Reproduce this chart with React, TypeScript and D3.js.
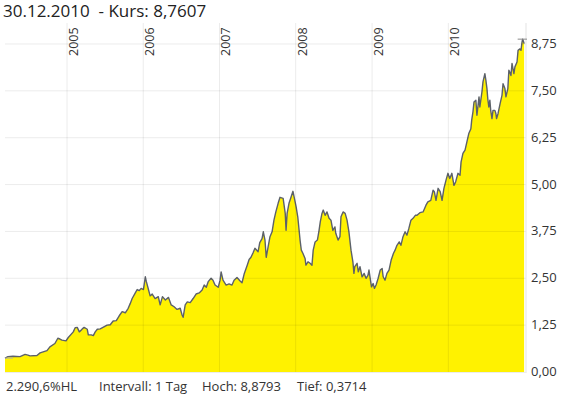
import React from 'react';
import * as d3 from 'd3';

// Kursverlauf (Datum, Kurs)
const kurs2004: [string, number][] = [
  ['2004-03-10', 0.3714], ['2004-03-24', 0.41], ['2004-04-17', 0.42], ['2004-05-21', 0.41],
  ['2004-06-14', 0.47], ['2004-06-28', 0.45], ['2004-07-08', 0.43], ['2004-08-10', 0.44],
  ['2004-08-25', 0.51], ['2004-09-27', 0.57], ['2004-10-11', 0.67], ['2004-11-04', 0.76],
  ['2004-11-18', 0.9], ['2004-11-28', 0.88], ['2004-12-08', 0.85], ['2004-12-27', 0.83],
];
const kurs2005: [string, number][] = [
  ['2005-01-07', 0.92], ['2005-01-31', 1.07], ['2005-02-09', 1.18], ['2005-02-19', 1.19],
  ['2005-03-01', 1.07], ['2005-03-15', 1.15], ['2005-03-24', 1.19], ['2005-04-08', 1.14],
  ['2005-04-13', 0.99], ['2005-04-27', 0.99], ['2005-05-07', 0.97], ['2005-05-16', 1.07],
  ['2005-05-26', 1.14], ['2005-06-09', 1.15], ['2005-07-12', 1.25], ['2005-07-27', 1.26],
  ['2005-08-10', 1.36], ['2005-08-25', 1.37], ['2005-09-08', 1.5], ['2005-09-22', 1.61],
  ['2005-10-07', 1.58], ['2005-10-21', 1.7], ['2005-10-31', 1.83], ['2005-11-09', 1.96],
  ['2005-11-24', 2.11], ['2005-12-03', 2.2], ['2005-12-13', 2.17], ['2005-12-22', 2.23],
];
const kurs2006: [string, number][] = [
  ['2006-01-02', 2.2], ['2006-01-11', 2.54], ['2006-01-16', 2.41], ['2006-01-25', 2.22],
  ['2006-02-03', 2.03], ['2006-02-13', 2.08], ['2006-02-27', 1.96], ['2006-03-14', 2.01],
  ['2006-03-23', 1.79], ['2006-04-03', 2.01], ['2006-04-17', 1.92], ['2006-05-02', 1.99],
  ['2006-05-15', 1.79], ['2006-05-29', 1.74], ['2006-06-12', 1.67], ['2006-06-27', 1.7],
  ['2006-07-06', 1.52], ['2006-07-11', 1.46], ['2006-07-21', 1.79], ['2006-07-31', 1.87],
  ['2006-08-14', 1.85], ['2006-08-28', 1.96], ['2006-09-11', 2.08], ['2006-09-26', 2.11],
  ['2006-10-10', 2.19], ['2006-10-20', 2.32], ['2006-10-30', 2.26], ['2006-11-08', 2.41],
  ['2006-11-22', 2.5], ['2006-12-01', 2.45], ['2006-12-11', 2.32], ['2006-12-26', 2.26],
];
const kurs2007: [string, number][] = [
  ['2007-01-04', 2.45], ['2007-01-09', 2.67], ['2007-01-18', 2.45], ['2007-02-02', 2.32],
  ['2007-02-16', 2.35], ['2007-03-02', 2.32], ['2007-03-12', 2.45], ['2007-03-26', 2.52],
  ['2007-04-10', 2.43], ['2007-04-19', 2.38], ['2007-04-30', 2.63], ['2007-05-14', 2.85],
  ['2007-05-23', 3.0], ['2007-06-01', 3.06], ['2007-06-11', 3.18], ['2007-06-20', 3.3],
  ['2007-07-05', 3.21], ['2007-07-13', 3.45], ['2007-07-24', 3.56], ['2007-07-30', 3.74],
  ['2007-08-07', 3.52], ['2007-08-13', 3.06], ['2007-08-22', 3.34], ['2007-08-31', 3.61],
  ['2007-09-10', 3.74], ['2007-09-19', 4.05], ['2007-09-28', 4.27], ['2007-10-09', 4.5],
  ['2007-10-18', 4.66], ['2007-11-02', 4.63], ['2007-11-12', 4.23], ['2007-11-16', 3.78],
  ['2007-11-21', 4.23], ['2007-11-30', 4.5], ['2007-12-10', 4.67], ['2007-12-19', 4.82],
];
const kurs2008: [string, number][] = [
  ['2008-01-03', 4.41], ['2008-01-11', 4.14], ['2008-01-22', 3.52], ['2008-01-28', 3.25],
  ['2008-02-05', 3.16], ['2008-02-15', 3.03], ['2008-02-19', 2.85], ['2008-02-29', 2.94],
  ['2008-03-10', 2.9], ['2008-03-19', 2.85], ['2008-03-25', 3.25], ['2008-04-03', 3.47],
  ['2008-04-14', 3.52], ['2008-04-22', 3.78], ['2008-04-28', 4.01], ['2008-05-06', 4.23],
  ['2008-05-12', 4.32], ['2008-05-21', 4.18], ['2008-05-30', 4.27], ['2008-06-09', 4.1],
  ['2008-06-18', 4.05], ['2008-06-27', 3.78], ['2008-07-07', 3.87], ['2008-07-11', 3.7],
  ['2008-07-22', 3.52], ['2008-07-31', 3.61], ['2008-08-05', 4.14], ['2008-08-15', 4.27],
  ['2008-08-25', 4.23], ['2008-09-03', 4.05], ['2008-09-12', 3.74], ['2008-09-22', 3.25],
  ['2008-10-01', 2.94], ['2008-10-06', 2.63], ['2008-10-10', 2.81], ['2008-10-21', 2.9],
  ['2008-10-27', 2.67], ['2008-11-04', 2.81], ['2008-11-14', 2.54], ['2008-11-24', 2.63],
  ['2008-12-03', 2.5], ['2008-12-12', 2.58], ['2008-12-17', 2.72], ['2008-12-29', 2.27],
];
const kurs2009: [string, number][] = [
  ['2009-01-06', 2.36], ['2009-01-12', 2.23], ['2009-01-20', 2.32], ['2009-01-30', 2.5],
  ['2009-02-09', 2.72], ['2009-02-18', 2.76], ['2009-02-23', 2.54], ['2009-03-04', 2.45],
  ['2009-03-13', 2.63], ['2009-03-23', 2.72], ['2009-04-02', 2.98], ['2009-04-13', 3.16],
  ['2009-04-21', 3.25], ['2009-04-30', 3.38], ['2009-05-11', 3.47], ['2009-05-19', 3.38],
  ['2009-05-29', 3.61], ['2009-06-08', 3.74], ['2009-06-17', 3.65], ['2009-06-26', 3.83],
  ['2009-07-06', 4.05], ['2009-07-16', 4.1], ['2009-07-27', 4.18], ['2009-08-04', 4.18],
  ['2009-08-18', 4.25], ['2009-09-02', 4.27], ['2009-09-16', 4.45], ['2009-09-25', 4.54],
  ['2009-10-09', 4.58], ['2009-10-20', 4.85], ['2009-10-26', 4.81], ['2009-11-03', 4.58],
  ['2009-11-13', 4.9], ['2009-11-23', 4.81], ['2009-12-02', 4.58], ['2009-12-11', 4.9],
  ['2009-12-21', 5.12], ['2009-12-30', 5.3],
];
const kurs2010: [string, number][] = [
  ['2010-01-08', 5.16], ['2010-01-18', 5.3], ['2010-01-28', 4.98], ['2010-02-05', 5.07],
  ['2010-02-16', 5.3], ['2010-02-26', 5.25], ['2010-03-03', 5.6], ['2010-03-12', 5.83],
  ['2010-03-22', 5.92], ['2010-03-31', 6.14], ['2010-04-09', 6.36], ['2010-04-19', 6.49],
  ['2010-04-23', 6.72], ['2010-04-29', 6.94], ['2010-05-04', 7.2], ['2010-05-13', 7.25],
  ['2010-05-18', 6.85], ['2010-05-28', 7.34], ['2010-06-01', 7.07], ['2010-06-11', 7.47],
  ['2010-06-16', 7.74], ['2010-06-25', 7.96], ['2010-06-30', 7.78], ['2010-07-05', 7.56],
  ['2010-07-09', 7.29], ['2010-07-14', 7.07], ['2010-07-19', 7.25], ['2010-07-23', 6.98],
  ['2010-07-29', 6.76], ['2010-08-03', 6.98], ['2010-08-12', 6.98], ['2010-08-17', 6.89],
  ['2010-08-20', 6.76], ['2010-08-27', 6.89], ['2010-09-06', 7.16], ['2010-09-15', 7.38],
  ['2010-09-20', 7.69], ['2010-09-29', 7.56], ['2010-10-04', 7.34], ['2010-10-13', 7.56],
  ['2010-10-18', 8.05], ['2010-10-22', 8.0], ['2010-10-28', 7.91], ['2010-11-02', 8.23],
  ['2010-11-11', 7.96], ['2010-11-16', 8.14], ['2010-11-26', 8.27], ['2010-12-01', 8.58],
  ['2010-12-10', 8.62], ['2010-12-15', 8.58], ['2010-12-20', 8.8], ['2010-12-23', 8.8793],
  ['2010-12-28', 8.8], ['2010-12-30', 8.7607],
];

const yTicks = [0, 1.25, 2.5, 3.75, 5, 6.25, 7.5, 8.75];
const yearTicks = ['2005', '2006', '2007', '2008', '2009', '2010'];
const hlLabel = '2.290,6%HL';
const intervallLabel = 'Intervall: 1 Tag';

const W = 564;
const H = 395;
const plot = { left: 5, right: 526, top: 23, bottom: 372 };
const font = "'Open Sans', sans-serif";

const de = d3.formatLocale({ decimal: ',', thousands: '.', grouping: [3], currency: ['', ' €'] });
const fmt2 = de.format('.2f');
const fmt4 = de.format('.4f');
const parse = d3.timeParse('%Y-%m-%d');
const fmtDate = d3.timeFormat('%d.%m.%Y');

const series = [...kurs2004, ...kurs2005, ...kurs2006, ...kurs2007, ...kurs2008, ...kurs2009, ...kurs2010]
  .map(([d, v]) => ({ date: parse(d) as Date, value: v }));

export default function App() {
  const x = d3.scaleTime()
    .domain([parse('2004-03-10') as Date, parse('2011-01-08') as Date])
    .range([plot.left, plot.right]);
  const y = d3.scaleLinear().domain([0, 9.31]).range([plot.bottom, plot.top]);

  const area = d3.area<{ date: Date; value: number }>()
    .x(d => x(d.date)).y0(y(0)).y1(d => y(d.value));
  const line = d3.line<{ date: Date; value: number }>()
    .x(d => x(d.date)).y(d => y(d.value));

  const last = series[series.length - 1];
  const hi = d3.greatest(series, d => d.value)!;
  const lo = d3.least(series, d => d.value)!;
  const grid = 'rgba(0,0,0,0.08)';

  return (
    <svg width={W} height={H} style={{ position: 'absolute', left: 0, top: 0, fontFamily: font }}>
      <rect width={W} height={H} fill="#fff" />
      <path d={area(series) || ''} fill="#fff200" />
      <path d={line(series) || ''} fill="none" stroke="#5c6169" strokeWidth={1.4} strokeLinejoin="round" />

      {/* gridlines over the fill */}
      {yTicks.slice(1).map(t => (
        <line key={t} x1={plot.left} x2={plot.right} y1={y(t)} y2={y(t)} stroke={grid} />
      ))}
      {yearTicks.map(yr => {
        const gx = x(new Date(+yr, 0, 1));
        return (
          <g key={yr}>
            <line x1={gx} x2={gx} y1={plot.top} y2={plot.bottom} stroke={grid} />
            <text transform={`translate(${gx + 11},56) rotate(-90)`} fontSize={12.5} fill="#333">{yr}</text>
          </g>
        );
      })}
      <line x1={plot.right} x2={plot.right} y1={plot.top} y2={plot.bottom + 1} stroke="#e3e3e3" />
      <line x1={plot.left} x2={plot.right} y1={plot.bottom + 0.5} y2={plot.bottom + 0.5} stroke="#ececec" />

      {/* Hoch / Tief markers */}
      <line x1={x(hi.date) - 5} x2={Math.min(x(hi.date) + 5, plot.right + 1)} y1={y(hi.value)} y2={y(hi.value)} stroke="#8a8a8a" />
      <line x1={plot.left} x2={x(lo.date) + 8} y1={y(lo.value)} y2={y(lo.value)} stroke="#b0b0b0" />

      {yTicks.map(t => (
        <text key={t} x={531} y={y(t) + 4} fontSize={13} fill="#333">{fmt2(t)}</text>
      ))}

      <text x={3} y={17} fontSize={17} fill="#222" style={{ whiteSpace: 'pre' }}>
        {`${fmtDate(last.date)}  - Kurs: ${fmt4(last.value)}`}
      </text>

      <text x={6} y={391} fontSize={13} fill="#333">{hlLabel}</text>
      <text x={99} y={391} fontSize={13} fill="#333">{intervallLabel}</text>
      <text x={202} y={391} fontSize={13} fill="#333">{`Hoch: ${fmt4(hi.value)}`}</text>
      <text x={297} y={391} fontSize={13} fill="#333">{`Tief: ${fmt4(lo.value)}`}</text>
    </svg>
  );
}
